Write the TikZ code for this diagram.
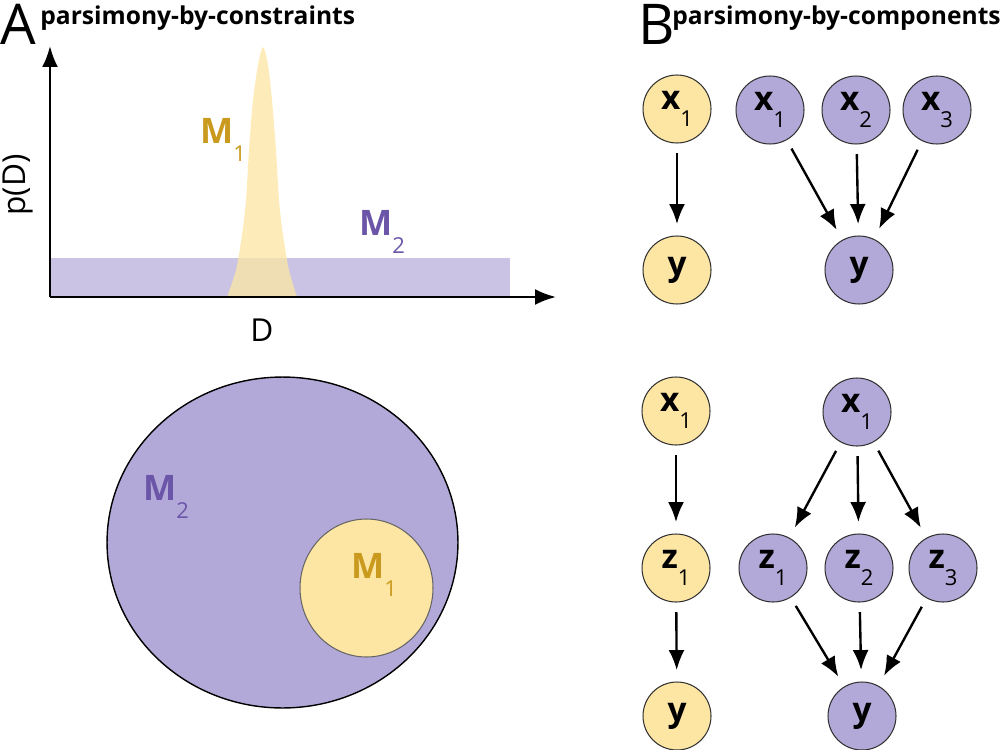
\documentclass[tikz,border=0pt]{standalone}
\usepackage{fontspec}
\setmainfont{Open Sans}
\usetikzlibrary{arrows.meta}
\definecolor{mgold}{HTML}{FDE6A3}
\definecolor{mpurple}{HTML}{B3A9D8}
\definecolor{goldtext}{HTML}{C99A1E}
\definecolor{purpletext}{HTML}{6B55A8}
\newcommand{\vlab}[2]{#1\raisebox{-0.95ex}{\fontsize{12.5}{13}\selectfont\mdseries #2}}

\begin{document}
\begin{tikzpicture}[x=0.02cm,y=-0.02cm,
    every node/.style={inner sep=0mm},
    var/.style={circle,draw=black!80,line width=0.6pt,minimum size=1.36cm,
      font=\fontsize{19}{20}\selectfont\bfseries},
    yvar/.style={var,fill=mgold},
    pvar/.style={var,fill=mpurple},
    edge/.style={line width=1.35pt,-{Latex[length=4mm,width=3.2mm]},
      shorten <=5.5pt,shorten >=6.5pt},
    axis/.style={line width=1.4pt,-{Latex[length=4.2mm,width=3.2mm]}},
    mlab/.style={font=\fontsize{20}{22}\selectfont\bfseries},
    panel/.style={anchor=base west,font=\fontsize{32}{34}\selectfont},
    title/.style={anchor=base west,font=\fontsize{14}{16}\selectfont\bfseries}]

    \useasboundingbox (0,0) rectangle (1000,750);

    % panel A: densities
    \node[panel] (lab-A) at (0,45) {A};
    \node[title] (title-A) at (40,25) {parsimony-by-constraints};
    \fill[mpurple,opacity=0.7] (50,258) rectangle (510,297);
    \fill[mgold,opacity=0.75] plot[smooth] coordinates {(227,297) (236,270)
      (242,235) (246,200) (249,150) (253,100) (258,65) (263,47) (268,65)
      (272,100) (276,150) (279,200) (283,235) (289,270) (297,297)} -- cycle;
    \coordinate (origin) at (50,297);
    \coordinate (y-end) at (50,46);
    \coordinate (x-end) at (556,297);
    \draw[axis] (origin) -- (y-end);
    \draw[axis] (origin) -- (x-end);
    \node[rotate=90,font=\fontsize{18}{20}\selectfont] (lab-p) at (18,185) {p(D)};
    \node[font=\fontsize{18}{20}\selectfont] (lab-D) at (262,330) {D};
    \node[mlab,text=goldtext] (m1-peak) at (223,140) {\vlab{M}{1}};
    \node[mlab,text=purpletext] (m2-flat) at (382,232) {\vlab{M}{2}};

    % panel A: nested sets
    \draw[line width=0.8pt,fill=mpurple] (282.5,542.5) ellipse (3.51cm and 3.31cm);
    \draw[line width=0.6pt,draw=black!60,fill=mgold] (366.5,588) ellipse (1.33cm and 1.38cm);
    \node[mlab,text=purpletext] (m2-set) at (166,497) {\vlab{M}{2}};
    \node[mlab,text=goldtext] (m1-set) at (374,575) {\vlab{M}{1}};

    % panel B
    \node[panel] (lab-B) at (638,45) {B};
    \node[title] (title-B) at (672,25) {parsimony-by-components};

    % top graphs
    \node[yvar] (a-x1) at (677,109) {\vlab{x}{1}};
    \node[yvar] (a-y) at (677,270) {y};
    \node[pvar] (b-x1) at (770,110) {\vlab{x}{1}};
    \node[pvar] (b-x2) at (856,110) {\vlab{x}{2}};
    \node[pvar] (b-x3) at (937,110) {\vlab{x}{3}};
    \node[pvar] (b-y) at (859,270) {y};
    \draw[edge] (a-x1) -- (a-y);
    \foreach \i in {1,2,3}
      \draw[edge] (b-x\i) -- (b-y);

    % bottom graphs
    \node[yvar] (c-x1) at (676,411) {\vlab{x}{1}};
    \node[yvar] (c-z1) at (676,568) {\vlab{z}{1}};
    \node[yvar] (c-y) at (677,716) {y};
    \node[pvar] (d-x1) at (857,412) {\vlab{x}{1}};
    \node[pvar] (d-z1) at (773,568) {\vlab{z}{1}};
    \node[pvar] (d-z2) at (859,568) {\vlab{z}{2}};
    \node[pvar] (d-z3) at (943,568) {\vlab{z}{3}};
    \node[pvar] (d-y) at (862,716) {y};
    \draw[edge] (c-x1) -- (c-z1);
    \draw[edge] (c-z1) -- (c-y);
    \foreach \i in {1,2,3} {
      \draw[edge] (d-x1) -- (d-z\i);
      \draw[edge] (d-z\i) -- (d-y);
    }
\end{tikzpicture}
\end{document}
